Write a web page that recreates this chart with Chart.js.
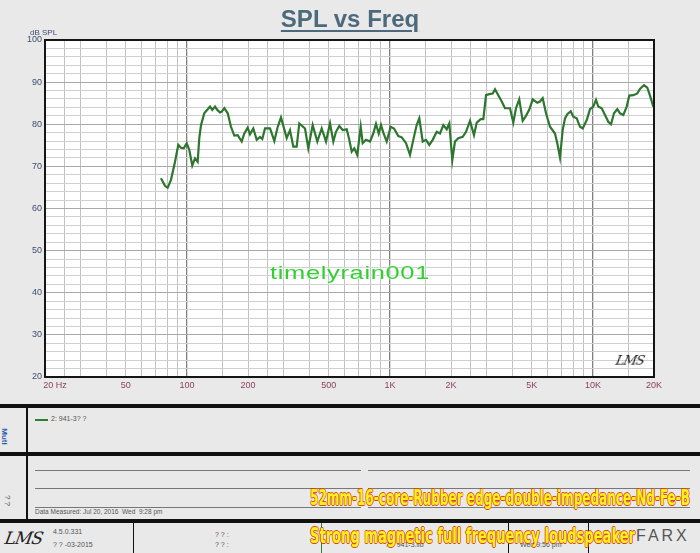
<!DOCTYPE html>
<html>
<head>
<meta charset="utf-8">
<script src="https://cdn.jsdelivr.net/npm/chart.js@4.4.1/dist/chart.umd.min.js"></script>
<style>
  html, body { margin:0; padding:0; }
  body { width:700px; height:553px; background:#e9e9e9; position:relative; overflow:hidden; font-family:"Liberation Sans", Arial, sans-serif; }
  #wrap { position:absolute; left:0; top:0; width:700px; height:400px; }
  .abs { position:absolute; white-space:nowrap; }
  #title { left:0; width:700px; top:5px; text-align:center; font-size:24px; font-weight:bold; color:#4c6a7b; text-decoration:underline; text-decoration-thickness:2px; text-underline-offset:3px; }
  #dbspl { left:30px; top:28px; font-size:8px; color:#3e4c6e; }
  #sig { left:616px; top:353px; font-family:"DejaVu Serif", serif; font-style:italic; font-size:13px; color:#222; transform:skewX(-12deg); letter-spacing:-1px; }
  #wm { left:270px; top:262px; font-size:19px; color:#2fd02f; text-shadow:0 0 2px #fff, 0 0 2px #fff; letter-spacing:0.5px; }
  .bar { position:absolute; left:0; width:700px; background:#111; }
  .vline { position:absolute; background:#111; }
  .hl { position:absolute; height:1px; background:#777; }
  .small { font-size:7px; color:#555; }
  .yel { font-family:"Liberation Sans Narrow","DejaVu Sans Condensed","Liberation Sans",sans-serif; font-size:22px; font-weight:bold; color:#fff21a;
         text-shadow:-1px 0 #d9431c, 1px 0 #d9431c, 0 -1px #d9431c, 0 1px #d9431c; transform-origin:left center; }
</style>
</head>
<body>
<div id="wrap"><canvas id="c" width="700" height="400"></canvas></div>
<div id="title" class="abs">SPL vs Freq</div>
<div id="dbspl" class="abs">dB SPL</div>
<div id="wm" class="abs">timelyrain001</div>
<div id="sig" class="abs">LMS</div>

<!-- lower panels -->
<div class="bar" style="top:404px;height:4px;"></div>
<div class="bar" style="top:452px;height:4px;"></div>
<div class="bar" style="top:519px;height:4px;"></div>
<div class="vline" style="left:26px;top:408px;width:2px;height:111px;"></div>
<div class="abs" style="left:-4px;top:432px;font-size:8px;font-weight:bold;color:#2a5caa;transform:rotate(90deg);">Muti</div>
<div class="abs" style="left:2px;top:496px;font-size:8px;color:#555;transform:rotate(90deg);">? ?</div>
<div class="hl" style="left:35px;top:419px;width:13px;height:2px;background:#2f7d32;"></div>
<div class="abs small" style="left:51px;top:415px;">2: 941-3? ?</div>

<div class="hl" style="left:35px;top:470px;width:326px;"></div>
<div class="hl" style="left:368px;top:470px;width:322px;"></div>
<div class="hl" style="left:35px;top:488px;width:326px;"></div>
<div class="hl" style="left:368px;top:488px;width:322px;"></div>
<div class="hl" style="left:35px;top:507px;width:326px;"></div>
<div class="hl" style="left:368px;top:507px;width:322px;"></div>
<div class="abs small" style="left:35px;top:508px;font-size:6.5px;">Data Measured: Jul 20, 2016&nbsp; Wed&nbsp; 9:28 pm</div>

<div class="abs" style="left:5px;top:528px;font-family:'DejaVu Serif',serif;font-style:italic;font-size:17px;color:#222;transform:skewX(-10deg);letter-spacing:-1px;">LMS</div>
<div class="abs small" style="left:53px;top:528px;">4.5.0.331</div>
<div class="abs small" style="left:53px;top:541px;">? ? -03-2015</div>
<div class="vline" style="left:133px;top:523px;width:1px;height:30px;"></div>
<div class="abs small" style="left:215px;top:531px;">? ? :</div>
<div class="abs small" style="left:215px;top:541px;">? ? :</div>
<div class="vline" style="left:321px;top:523px;width:1px;height:30px;background:#3a7a3a;"></div>
<div class="abs small" style="left:385px;top:541px;">? ? 941-3.lib</div>
<div class="vline" style="left:508px;top:523px;width:1px;height:30px;"></div>
<div class="abs small" style="left:520px;top:541px;">Wed 9:56 pm</div>
<div class="vline" style="left:588px;top:523px;width:1px;height:30px;"></div>
<div class="abs" style="left:636px;top:527px;font-size:16px;color:#555;letter-spacing:3px;">FARX</div>

<div id="y1" class="abs yel" style="left:310px;top:485px;">52mm-16-core-Rubber edge-double-impedance-Nd-Fe-B</div>
<div id="y2" class="abs yel" style="left:310px;top:523px;">Strong magnetic full frequency loudspeaker</div>

<script>
// ---- data ----
const freqHz = [74.5, 78.0, 80.4, 83.5, 87.4, 90.7, 93.5, 96.5, 99.8, 102.8,
  106.3, 109.6, 113.0, 115.1, 117.4, 121.8, 130.0, 133.4, 137.6, 141.2,
  145.6, 148.4, 152.9, 158.9, 164.9, 171.2, 177.9, 186.2, 191.8, 199.3,
  204.6, 212.4, 220.8, 229.2, 235.2, 242.6, 256.8, 269.6, 280.2, 290.8,
  310.2, 322, 334.4, 347.4, 357.8, 381.8, 396.4, 416.6, 439, 461.4,
  484.6, 507, 526.4, 542.6, 563.4, 585.6, 612.8, 631, 648.4, 667.8,
  691, 718.2, 734.6, 762.6, 798, 828.4, 854.2, 880.8, 904.2, 928,
  964.6, 1009, 1048, 1100, 1144, 1201, 1256, 1314, 1355, 1396,
  1451, 1506, 1564, 1625, 1701, 1766, 1833, 1905, 1962, 2030,
  2092, 2172, 2284, 2372, 2482, 2596, 2678, 2802, 2886, 2976,
  3112, 3210, 3294, 3420, 3556, 3690, 3906, 4054, 4180, 4338,
  4510, 4682, 4862, 5052, 5324, 5488, 5658, 5876, 6148, 6506,
  6678, 6886, 7098, 7288, 7480, 7776, 8010, 8324, 8642, 8912,
  9326, 9678, 10046, 10360, 10634, 11052, 11474, 11912, 12282, 12708,
  13192, 13602, 14122, 14676, 15114, 15814, 16548, 17062, 17854, 18536,
  19112, 19844];
const splDb = [67.2, 65.4, 64.9, 66.8, 71.1, 75.1, 74.4, 74.3, 75.5, 73.9,
  70.2, 71.9, 71.1, 76.7, 79.8, 82.6, 84.2, 83.4, 84.2, 83.4,
  82.8, 83.0, 83.8, 82.6, 79.4, 77.3, 77.4, 75.9, 77.8, 79.2,
  77.6, 79.0, 76.3, 77.0, 76.5, 79.0, 79.0, 76.0, 79.4, 81.6,
  76.7, 78.6, 74.7, 74.7, 80.2, 79.0, 74.3, 79.8, 75.9, 79.0,
  75.9, 80.2, 75.9, 78.2, 79.6, 78.6, 78.8, 76.3, 73.5, 74.3,
  72.7, 79.4, 75.5, 76.3, 75.9, 77.8, 80.1, 77.8, 79.8, 78.0,
  75.9, 79.4, 79.0, 77.2, 76.9, 75.5, 72.7, 77.0, 79.8, 81.4,
  75.9, 76.3, 75.1, 76.3, 78.2, 77.8, 79.8, 78.8, 80.2, 71.5,
  75.9, 76.7, 77.0, 78.2, 80.8, 77.4, 80.4, 81.2, 81.2, 86.9,
  87.2, 87.3, 88.3, 86.9, 85.4, 83.8, 83.8, 80.4, 83.8, 85.9,
  80.8, 82.0, 83.5, 85.9, 85.1, 85.4, 86.2, 82.6, 79.4, 77.8,
  75.5, 72.1, 78.6, 81.4, 82.4, 83.1, 81.8, 81.4, 79.4, 79.0,
  81.0, 83.6, 84.2, 85.8, 84.2, 83.8, 82.2, 80.6, 80.0, 82.6,
  83.6, 82.6, 82.2, 84.2, 86.8, 86.9, 87.3, 88.4, 89.3, 88.7,
  86.8, 84.2];

const xLabelValues = [20, 50, 100, 200, 500, 1000, 2000, 5000, 10000, 20000];
const xLabelTexts  = ['20 Hz', '50', '100', '200', '500', '1K', '2K', '5K', '10K', '20K'];
const xGridMultipliers = [1, 1.5, 2, 2.5, 3, 4, 5, 6, 7, 8, 9];
const xGridDecades = [10, 100, 1000, 10000];
const xMajorGrid = [100, 1000, 10000];
const yMin = 20, yMax = 100, yGridStep = 2, yLabelStep = 10;
const xMin = 20, xMax = 20000;

const xGridValues = [];
xGridDecades.forEach(d => xGridMultipliers.forEach(m => {
  const v = Math.round(m * d * 10) / 10;
  if (v >= xMin && v <= xMax) xGridValues.push(v);
}));

const bgPlugin = {
  id: 'bg',
  beforeDraw(chart) {
    const {ctx, chartArea: a} = chart;
    ctx.save();
    ctx.fillStyle = '#ffffff';
    ctx.fillRect(a.left, a.top, a.right - a.left, a.bottom - a.top);
    ctx.restore();
  }
};
const framePlugin = {
  id: 'frame',
  afterDraw(chart) {
    const {ctx, chartArea: a} = chart;
    ctx.save();
    ctx.strokeStyle = '#151515';
    ctx.lineWidth = 2;
    ctx.strokeRect(a.left, a.top, a.right - a.left, a.bottom - a.top);
    ctx.restore();
  }
};

new Chart(document.getElementById('c'), {
  type: 'line',
  data: {
    datasets: [{
      data: freqHz.map((f, i) => ({x: f, y: splDb[i]})),
      borderColor: '#2c762e',
      borderWidth: 2.2,
      pointRadius: 0,
      tension: 0,
      fill: false
    }]
  },
  options: {
    responsive: false,
    animation: false,
    layout: {padding: {left: 0, top: 40, right: 46, bottom: 0}},
    plugins: {legend: {display: false}, tooltip: {enabled: false}},
    scales: {
      x: {
        type: 'logarithmic', min: xMin, max: xMax,
        afterBuildTicks(s) { s.ticks = xGridValues.map(v => ({value: v})); },
        afterFit(s) { s.height = 23; },
        border: {display: false},
        grid: {
          drawTicks: false,
          color: c => (c.tick && xMajorGrid.includes(c.tick.value)) ? '#808080' : '#c2c2c2',
          lineWidth: c => (c.tick && xMajorGrid.includes(c.tick.value)) ? 1.3 : 1
        },
        ticks: {
          autoSkip: false, maxRotation: 0, padding: 3,
          font: {size: 9, family: '"Liberation Sans", Arial, sans-serif'},
          color: '#8c3f63',
          callback: (v) => {
            const i = xLabelValues.indexOf(v);
            if (i < 0) return '';
            return i === 0 ? '        ' + xLabelTexts[i] : xLabelTexts[i];
          }
        }
      },
      y: {
        min: yMin, max: yMax,
        afterFit(s) { s.width = 45; },
        border: {display: false},
        grid: {
          drawTicks: false,
          color: c => (c.tick && c.tick.value % yLabelStep === 0) ? '#a8a8a8' : '#d0d0d0'
        },
        ticks: {
          stepSize: yGridStep, autoSkip: false, padding: 3,
          font: {size: 9, family: '"Liberation Sans", Arial, sans-serif'},
          color: '#3e4c6e',
          callback: v => (v % yLabelStep === 0 ? String(v) : '')
        }
      }
    }
  },
  plugins: [bgPlugin, framePlugin]
});

// fit the overlay captions to their widths in the reference
function fitWidth(id, w) {
  const el = document.getElementById(id);
  const cur = el.getBoundingClientRect().width;
  if (cur > 0) el.style.transform = 'scaleX(' + (w / cur) + ')';
}
fitWidth('y1', 380);
fitWidth('y2', 325);
(function(){
  const el = document.getElementById('wm');
  const cur = el.getBoundingClientRect().width;
  if (cur > 0) { el.style.transformOrigin = 'left center'; el.style.transform = 'scaleX(' + (160 / cur) + ')'; }
})();
</script>
</body>
</html>
